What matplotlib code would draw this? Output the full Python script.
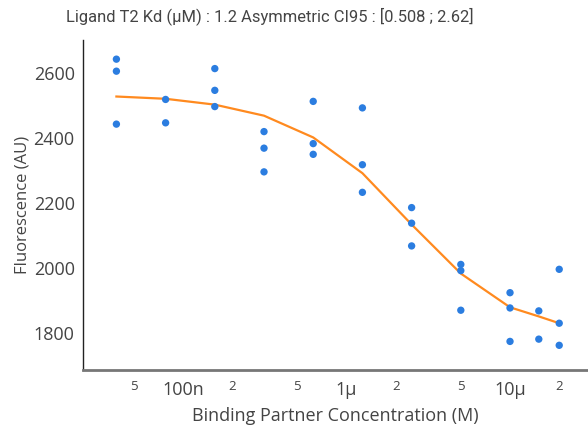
import matplotlib
matplotlib.use("Agg")
import matplotlib.pyplot as plt

# concentrations (M), two-fold dilution series plus 15 uM
conc = [3.90625e-8, 7.8125e-8, 1.5625e-7, 3.125e-7, 6.25e-7,
        1.25e-6, 2.5e-6, 5e-6, 1e-5, 1.5e-5, 2e-5]

# replicate fluorescence readings per concentration
replicates = [
    [2643, 2606, 2443],
    [2519, 2447],
    [2614, 2547, 2497],
    [2420, 2369, 2296],
    [2513, 2383, 2350],
    [2493, 2318, 2233],
    [2186, 2138, 2068],
    [2011, 1992, 1870],
    [1924, 1877, 1774],
    [1868, 1781],
    [1996, 1830, 1762],
]

# fitted curve evaluated at each concentration
fit = [2528, 2521, 2503, 2469, 2402, 2292, 2134, 1983, 1879, 1851, 1830]

major_ticks = [1e-7, 1e-6, 1e-5]
major_labels = ["100n", "1µ", "10µ"]
minor_ticks = [5e-8, 2e-7, 5e-7, 2e-6, 5e-6, 2e-5]
minor_labels = ["5", "2", "5", "2", "5", "2"]
y_ticks = [1800, 2000, 2200, 2400, 2600]

title = "Ligand T2 Kd (µM) : 1.2 Asymmetric CI95 : [0.508 ; 2.62]"

xs, ys = [], []
for c, vals in zip(conc, replicates):
    for v in vals:
        xs.append(c)
        ys.append(v)

fig = plt.figure(figsize=(5.88, 4.30), dpi=100)
ax = fig.add_axes([83 / 588, 60 / 430, 505 / 588, 330 / 430])

ax.plot(conc, fit, color="#ff8a1f", lw=1.6, zorder=2)
ax.scatter(xs, ys, s=28, color="#2b7de0", edgecolors="none", zorder=3)

ax.set_xscale("log")
ax.set_xlim(2.44e-8, 3.0e-5)
ax.set_ylim(1686, 2702)

ax.set_xticks(major_ticks)
ax.set_xticklabels(major_labels, fontsize=13, family="Open Sans", color="#444444")
ax.set_xticks(minor_ticks, minor=True)
ax.set_xticklabels(minor_labels, minor=True, fontsize=9.5, family="Open Sans", color="#444444")
ax.tick_params(axis="x", which="major", length=0, pad=8)
ax.tick_params(axis="x", which="minor", length=0, pad=7)

ax.set_yticks(y_ticks)
ax.set_yticklabels([str(t) for t in y_ticks], fontsize=13, family="Open Sans", color="#444444")
ax.tick_params(axis="y", length=0, pad=6)

ax.spines["top"].set_visible(False)
ax.spines["right"].set_visible(False)
ax.spines["left"].set_color("#222222")
ax.spines["left"].set_linewidth(1.0)
ax.spines["bottom"].set_color("#777777")
ax.spines["bottom"].set_linewidth(2.0)

ax.set_xlabel("Binding Partner Concentration (M)", fontsize=13, family="Open Sans",
              color="#444444", labelpad=6)
ax.set_ylabel("Fluorescence (AU)", fontsize=12, family="Open Sans",
              color="#444444", labelpad=2)

fig.text(270 / 588, 1 - 16 / 430, title, fontsize=11.9, family="Roboto",
         color="#444444", ha="center", va="center")

fig.savefig("out.png", dpi=100)
